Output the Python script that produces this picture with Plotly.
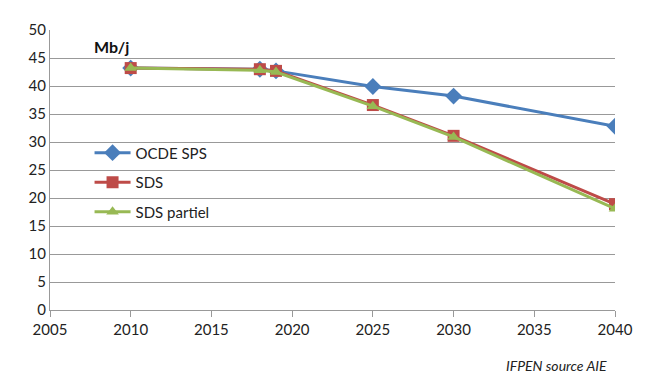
import plotly.graph_objects as go

years = [2010, 2018, 2019, 2025, 2030, 2040]
ocde_sps = [43.2, 43.0, 42.7, 39.9, 38.2, 32.8]
sds = [43.2, 43.0, 42.7, 36.6, 31.1, 18.9]
sds_partiel = [43.2, 42.8, 42.5, 36.4, 30.9, 18.1]

x_ticks = [2005, 2010, 2015, 2020, 2025, 2030, 2035, 2040]
y_ticks = [0, 5, 10, 15, 20, 25, 30, 35, 40, 45, 50]

FONT = "Lato, Liberation Sans, sans-serif"

fig = go.Figure()
fig.add_trace(go.Scatter(x=years, y=ocde_sps, name="OCDE SPS", mode="lines+markers",
                         legendgroup="a",
                         line=dict(color="#4a7ebb", width=3),
                         marker=dict(symbol="diamond", size=13, color="#4a7ebb")))
fig.add_trace(go.Scatter(x=years, y=sds, name="SDS", mode="lines+markers",
                         legendgroup="b",
                         line=dict(color="#be4b48", width=3),
                         marker=dict(symbol="square", size=12, color="#be4b48")))
fig.add_trace(go.Scatter(x=years, y=sds_partiel, name="SDS partiel", mode="lines+markers",
                         legendgroup="c",
                         line=dict(color="#98b954", width=3),
                         marker=dict(symbol="triangle-up", size=11, color="#98b954")))

fig.update_layout(
    width=643, height=383,
    margin=dict(l=42, r=36, t=12, b=81),
    paper_bgcolor="white", plot_bgcolor="white",
    font=dict(family=FONT, size=15, color="#222"),
    showlegend=True,
    legend=dict(x=0.07, y=0.62, xanchor="left", yanchor="top",
                bgcolor="rgba(0,0,0,0)", font=dict(size=15, color="#222"),
                tracegroupgap=7, itemwidth=36),
    xaxis=dict(range=[2005, 2040], tickvals=x_ticks, showgrid=False,
               showline=True, linecolor="#999", linewidth=1,
               ticks="outside", ticklen=6, tickcolor="#999", zeroline=False),
    yaxis=dict(range=[0, 50], tickvals=y_ticks, showgrid=True, gridcolor="#999",
               gridwidth=1, showline=True, linecolor="#999", linewidth=1,
               ticks="", zeroline=False),
    annotations=[
        dict(text="<b>Mb/j</b>", x=0.075, y=0.94, xref="paper", yref="paper",
             xanchor="left", yanchor="middle", showarrow=False, font=dict(size=16, color="#111")),
        dict(text="<i>IFPEN source AIE</i>", x=0.99, y=-0.197, xref="paper", yref="paper",
             xanchor="right", yanchor="middle", showarrow=False, font=dict(size=14, color="#222")),
    ],
)

fig.write_html("out.html")
